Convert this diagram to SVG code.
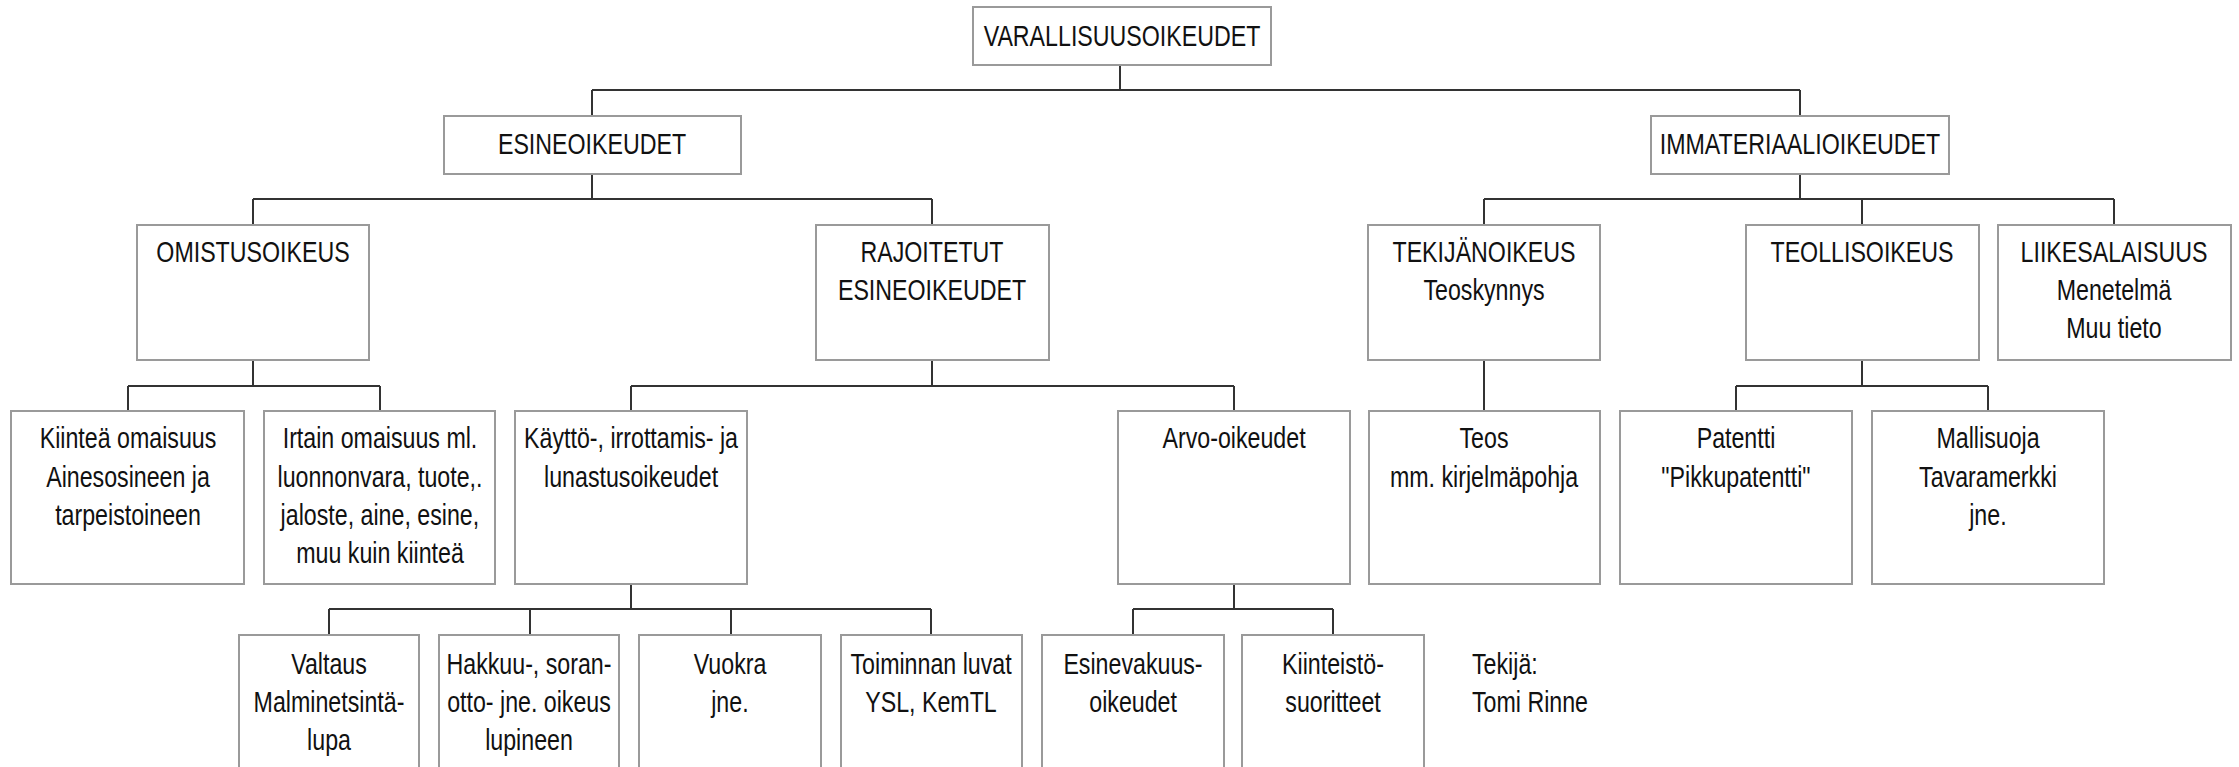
<svg xmlns="http://www.w3.org/2000/svg" width="2239" height="767" viewBox="0 0 2239 767">
<style>
.box{fill:#fff;stroke:#9a9a9a;stroke-width:2}
.t{font-family:"Liberation Sans Narrow","Liberation Sans",Arial,sans-serif;font-size:29px;fill:#111;text-anchor:middle;transform-box:fill-box;transform-origin:center;transform:scaleX(0.8)}
.l{text-anchor:start;transform-origin:left center}
#connectors path{fill:none;stroke:#333;stroke-width:2}
</style>
<rect width="2239" height="767" fill="#fff"/>
<g id="connectors">
<path d="M1120 65V90M592 90H1800M592 90V116M1800 90V116"/>
<path d="M592 174V199M253 199H932M253 199V225M932 199V225"/>
<path d="M1800 174V199M1484 199H2114M1484 199V225M1862 199V225M2114 199V225"/>
<path d="M253 360V386M128 386H380M128 386V411M380 386V411"/>
<path d="M932 360V386M631 386H1234M631 386V411M1234 386V411"/>
<path d="M1484 360V411"/>
<path d="M1862 360V386M1736 386H1988M1736 386V411M1988 386V411"/>
<path d="M631 584V609M329 609H931M329 609V635M530 609V635M731 609V635M931 609V635"/>
<path d="M1234 584V609M1133 609H1333M1133 609V635M1333 609V635"/>
</g>
<g id="root"><rect class="box" x="973" y="7" width="298" height="58"/><text class="t" x="1122" y="46">VARALLISUUSOIKEUDET</text></g>
<g id="esine"><rect class="box" x="444" y="116" width="297" height="58"/><text class="t" x="592" y="154">ESINEOIKEUDET</text></g>
<g id="immat"><rect class="box" x="1651" y="116" width="298" height="58"/><text class="t" x="1800" y="154">IMMATERIAALIOIKEUDET</text></g>
<g id="omist"><rect class="box" x="137" y="225" width="232" height="135"/><text class="t" x="253" y="262">OMISTUSOIKEUS</text></g>
<g id="rajoit"><rect class="box" x="816" y="225" width="233" height="135"/><text class="t" x="932" y="262">RAJOITETUT</text><text class="t" x="932" y="300">ESINEOIKEUDET</text></g>
<g id="tekijanoikeus"><rect class="box" x="1368" y="225" width="232" height="135"/><text class="t" x="1484" y="262">TEKIJÄNOIKEUS</text><text class="t" x="1484" y="300">Teoskynnys</text></g>
<g id="teoll"><rect class="box" x="1746" y="225" width="233" height="135"/><text class="t" x="1862" y="262">TEOLLISOIKEUS</text></g>
<g id="liike"><rect class="box" x="1998" y="225" width="233" height="135"/><text class="t" x="2114" y="262">LIIKESALAISUUS</text><text class="t" x="2114" y="300">Menetelmä</text><text class="t" x="2114" y="338">Muu tieto</text></g>
<g id="kiintea"><rect class="box" x="11" y="411" width="233" height="173"/><text class="t" x="128" y="448">Kiinteä omaisuus</text><text class="t" x="128" y="487">Ainesosineen ja</text><text class="t" x="128" y="525">tarpeistoineen</text></g>
<g id="irtain"><rect class="box" x="264" y="411" width="231" height="173"/><text class="t" x="380" y="448">Irtain omaisuus ml.</text><text class="t" x="380" y="487">luonnonvara, tuote,.</text><text class="t" x="380" y="525">jaloste, aine, esine,</text><text class="t" x="380" y="563">muu kuin kiinteä</text></g>
<g id="kaytto"><rect class="box" x="515" y="411" width="232" height="173"/><text class="t" x="631" y="448">Käyttö-, irrottamis- ja</text><text class="t" x="631" y="487">lunastusoikeudet</text></g>
<g id="arvo"><rect class="box" x="1118" y="411" width="232" height="173"/><text class="t" x="1234" y="448">Arvo-oikeudet</text></g>
<g id="teos"><rect class="box" x="1369" y="411" width="231" height="173"/><text class="t" x="1484" y="448">Teos</text><text class="t" x="1484" y="487">mm. kirjelmäpohja</text></g>
<g id="patentti"><rect class="box" x="1620" y="411" width="232" height="173"/><text class="t" x="1736" y="448">Patentti</text><text class="t" x="1736" y="487">"Pikkupatentti"</text></g>
<g id="mallisuoja"><rect class="box" x="1872" y="411" width="232" height="173"/><text class="t" x="1988" y="448">Mallisuoja</text><text class="t" x="1988" y="487">Tavaramerkki</text><text class="t" x="1988" y="525">jne.</text></g>
<g id="valtaus"><rect class="box" x="239" y="635" width="180" height="180"/><text class="t" x="329" y="674">Valtaus</text><text class="t" x="329" y="712">Malminetsintä-</text><text class="t" x="329" y="750">lupa</text></g>
<g id="hakkuu"><rect class="box" x="439" y="635" width="180" height="180"/><text class="t" x="529" y="674">Hakkuu-, soran-</text><text class="t" x="529" y="712">otto- jne. oikeus</text><text class="t" x="529" y="750">lupineen</text></g>
<g id="vuokra"><rect class="box" x="639" y="635" width="182" height="180"/><text class="t" x="730" y="674">Vuokra</text><text class="t" x="730" y="712">jne.</text></g>
<g id="toiminnan"><rect class="box" x="841" y="635" width="181" height="180"/><text class="t" x="931" y="674">Toiminnan luvat</text><text class="t" x="931" y="712">YSL, KemTL</text></g>
<g id="esinevakuus"><rect class="box" x="1042" y="635" width="182" height="180"/><text class="t" x="1133" y="674">Esinevakuus-</text><text class="t" x="1133" y="712">oikeudet</text></g>
<g id="kiinteisto"><rect class="box" x="1242" y="635" width="182" height="180"/><text class="t" x="1333" y="674">Kiinteistö-</text><text class="t" x="1333" y="712">suoritteet</text></g>
<g id="tekija"><text class="t l" x="1472" y="674">Tekijä:</text><text class="t l" x="1472" y="712">Tomi Rinne</text></g>
</svg>
